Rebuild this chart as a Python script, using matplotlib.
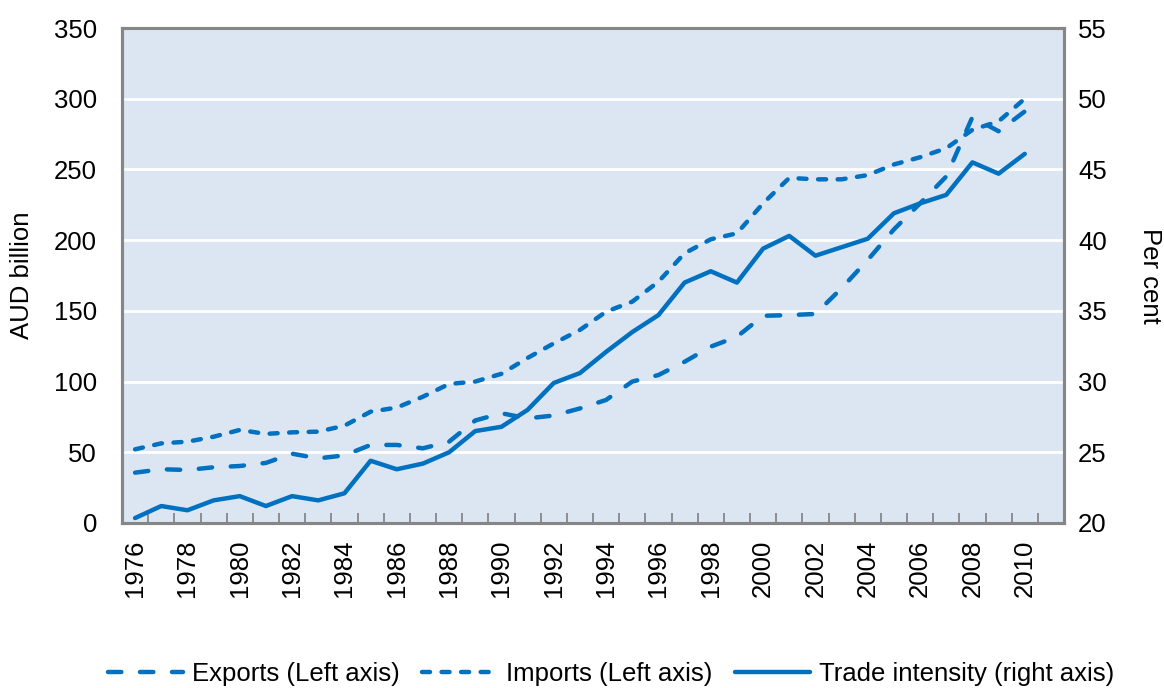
import matplotlib
matplotlib.use("Agg")
import matplotlib.pyplot as plt
import numpy as np

years = list(range(1976, 2011))
exports = [35.6, 38.0, 37.5, 39.4, 40.3, 42.5, 49.0, 45.7, 47.8, 55.2, 55.2, 52.8, 57.5, 72.5, 77.6,
           74.0, 76.0, 81.0, 87.0, 100.0, 104.6, 114.0, 124.7, 131.7, 146.5, 147.0, 147.8, 166.0, 186.0,
           207.6, 226.0, 245.0, 287.0, 277.0, 291.0]
imports = [52.1, 56.3, 57.5, 61.0, 65.8, 63.0, 64.1, 64.6, 68.8, 78.7, 81.6, 89.3, 98.3, 100.0, 105.5,
           116.7, 127.0, 136.5, 149.4, 156.5, 170.6, 190.7, 200.6, 204.8, 226.0, 244.0, 243.0, 243.0,
           246.0, 253.5, 258.6, 265.0, 278.0, 284.0, 300.0]
trade_intensity = [20.35, 21.2, 20.9, 21.6, 21.9, 21.2, 21.9, 21.6, 22.1, 24.4, 23.8, 24.2, 25.0, 26.5,
                   26.8, 28.0, 29.9, 30.6, 32.1, 33.5, 34.7, 37.0, 37.8, 37.0, 39.4, 40.3, 38.9, 39.5,
                   40.1, 41.9, 42.6, 43.2, 45.5, 44.7, 46.1]
left_ticks = [0, 50, 100, 150, 200, 250, 300, 350]
right_ticks = [20, 25, 30, 35, 40, 45, 50, 55]
year_labels = [str(y) for y in years[::2]]

plt.rcParams['font.family'] = ['Liberation Sans', 'DejaVu Sans']
FS = 18.5
BLUE = '#0070C0'
BG = '#DCE6F2'
SPINE = '#868686'

fig = plt.figure(figsize=(11.64, 6.88), dpi=100)
ax = fig.add_axes([122/1164, 1 - 523/688, (1064-122)/1164, (523-28)/688])
ax2 = ax.twinx()

x = np.arange(len(years))
lw = 3.2
l1, = ax.plot(x, exports, color=BLUE, lw=lw, dashes=(3.0, 4.2), dash_capstyle='round',
              label='Exports (Left axis)', zorder=3)
l2, = ax.plot(x, imports, color=BLUE, lw=lw, dashes=(1.8, 2.6), dash_capstyle='round',
              label='Imports (Left axis)', zorder=3)
l3, = ax2.plot(x, trade_intensity, color=BLUE, lw=lw, solid_capstyle='round',
               solid_joinstyle='round', label='Trade intensity (right axis)', zorder=3)

ax.set_facecolor(BG)
ax.set_xlim(-0.5, 35.5)
ax.set_ylim(0, 350)
ax2.set_ylim(20, 55)
ax.set_yticks(left_ticks)
ax2.set_yticks(right_ticks)
ax.grid(axis='y', color='white', lw=2.0, zorder=1)
ax.set_axisbelow(True)

ax.set_xticks(x[::2])
ax.set_xticklabels(year_labels, rotation=90, fontsize=FS)
ax.set_xticks(np.arange(-0.5, 36, 1), minor=True)
ax.tick_params(axis='x', which='major', length=0, pad=12)
ax.tick_params(axis='x', which='minor', direction='in', length=7, width=1.3, color=SPINE)
ax.tick_params(axis='y', length=0, pad=18, labelsize=FS)
ax2.tick_params(axis='y', length=0, pad=10, labelsize=FS)

for a in (ax, ax2):
    for s in a.spines.values():
        s.set_color(SPINE)
        s.set_linewidth(2.2)

ax.set_ylabel('AUD billion', fontsize=FS, labelpad=14)
ax2.set_ylabel('Per cent', fontsize=FS, rotation=270, labelpad=40)

leg = fig.legend(handles=[l1, l2, l3], loc='lower center', bbox_to_anchor=(0.525, -0.03),
                 ncol=3, frameon=False, fontsize=FS, handlelength=2.9, handletextpad=0.35,
                 columnspacing=0.9)

fig.savefig('out.png', dpi=100)
